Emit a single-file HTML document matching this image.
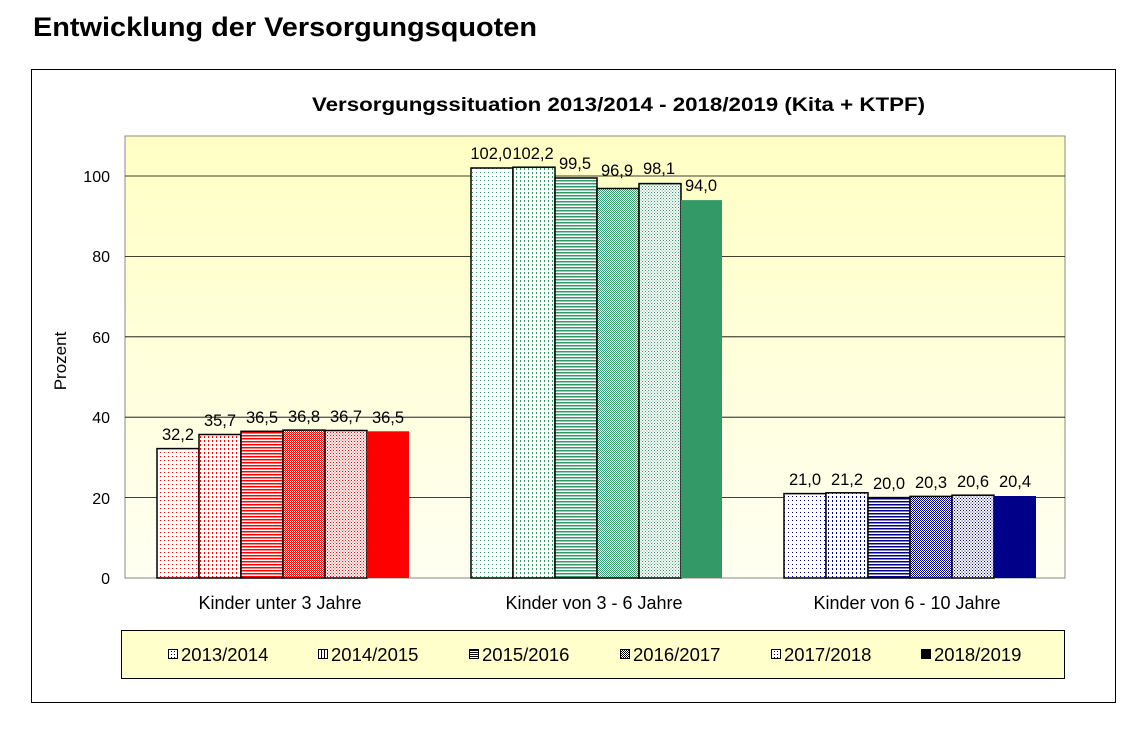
<!DOCTYPE html>
<html><head><meta charset="utf-8"><style>
body{margin:0;background:#fff;width:1140px;height:749px;overflow:hidden}
text{font-family:"Liberation Sans",Arial,sans-serif}
</style></head><body>
<svg width="1140" height="749" xmlns="http://www.w3.org/2000/svg">
<defs>
<linearGradient id="bg" x1="0" y1="0" x2="0" y2="1"><stop offset="0" stop-color="#ffffc4"/><stop offset="1" stop-color="#fffff2"/></linearGradient>
<pattern id="r1" width="4" height="4" patternUnits="userSpaceOnUse"><rect width="4" height="4" fill="#fff"/><rect width="1" height="1" fill="#f00"/></pattern>
<pattern id="r2" width="4" height="4" patternUnits="userSpaceOnUse"><rect width="4" height="4" fill="#fff"/><rect width="1" height="2" fill="#f00"/></pattern>
<pattern id="r3" width="3" height="3" patternUnits="userSpaceOnUse"><rect width="3" height="3" fill="#fff"/><rect width="3" height="1.5" fill="#f00"/></pattern>
<pattern id="r4" width="2" height="2" patternUnits="userSpaceOnUse"><rect width="2" height="2" fill="#fff"/><rect width="1" height="1" fill="#f00"/><rect x="1" y="1" width="1" height="1" fill="#f00"/></pattern>
<pattern id="r5" width="3" height="3" patternUnits="userSpaceOnUse"><rect width="3" height="3" fill="#fff"/><rect width="1" height="1" fill="#f00"/><rect x="1.5" y="1.5" width="1" height="1" fill="#f00"/></pattern>
<pattern id="g1" width="4" height="4" patternUnits="userSpaceOnUse"><rect width="4" height="4" fill="#fff"/><rect width="1" height="1" fill="#396"/></pattern>
<pattern id="g2" width="4" height="4" patternUnits="userSpaceOnUse"><rect width="4" height="4" fill="#fff"/><rect width="1" height="2" fill="#396"/></pattern>
<pattern id="g3" width="3" height="3" patternUnits="userSpaceOnUse"><rect width="3" height="3" fill="#fff"/><rect width="3" height="1.5" fill="#396"/></pattern>
<pattern id="g4" width="2" height="2" patternUnits="userSpaceOnUse"><rect width="2" height="2" fill="#fff"/><rect width="1" height="1" fill="#396"/><rect x="1" y="1" width="1" height="1" fill="#396"/></pattern>
<pattern id="g5" width="3" height="3" patternUnits="userSpaceOnUse"><rect width="3" height="3" fill="#fff"/><rect width="1" height="1" fill="#396"/><rect x="1.5" y="1.5" width="1" height="1" fill="#396"/></pattern>
<pattern id="n1" width="4" height="4" patternUnits="userSpaceOnUse"><rect width="4" height="4" fill="#fff"/><rect width="1" height="1" fill="#008"/></pattern>
<pattern id="n2" width="4" height="4" patternUnits="userSpaceOnUse"><rect width="4" height="4" fill="#fff"/><rect width="1" height="2" fill="#008"/></pattern>
<pattern id="n3" width="3" height="3" patternUnits="userSpaceOnUse"><rect width="3" height="3" fill="#fff"/><rect width="3" height="1.5" fill="#008"/></pattern>
<pattern id="n4" width="2" height="2" patternUnits="userSpaceOnUse"><rect width="2" height="2" fill="#fff"/><rect width="1" height="1" fill="#008"/><rect x="1" y="1" width="1" height="1" fill="#008"/></pattern>
<pattern id="n5" width="3" height="3" patternUnits="userSpaceOnUse"><rect width="3" height="3" fill="#fff"/><rect width="1" height="1" fill="#008"/><rect x="1.5" y="1.5" width="1" height="1" fill="#008"/></pattern>
<pattern id="k1" width="3" height="3" patternUnits="userSpaceOnUse"><rect width="3" height="3" fill="#fff"/><rect width="1" height="1" fill="#000"/></pattern>
<pattern id="k2" width="3" height="3" patternUnits="userSpaceOnUse"><rect width="3" height="3" fill="#fff"/><rect width="1" height="3" fill="#000"/></pattern>
<pattern id="k3" width="2" height="2" patternUnits="userSpaceOnUse"><rect width="2" height="2" fill="#fff"/><rect width="2" height="1" fill="#000"/></pattern>
<pattern id="k4" width="2" height="2" patternUnits="userSpaceOnUse"><rect width="2" height="2" fill="#fff"/><rect width="1" height="1" fill="#000"/><rect x="1" y="1" width="1" height="1" fill="#000"/></pattern>
</defs>
<text x="33" y="36" font-size="27" font-weight="bold" fill="#000" textLength="504" lengthAdjust="spacingAndGlyphs">Entwicklung der Versorgungsquoten</text>
<rect x="31.5" y="69.5" width="1084" height="633" fill="#fff" stroke="#000" stroke-width="1"/>
<text x="312" y="111" font-size="19" font-weight="bold" textLength="613" lengthAdjust="spacingAndGlyphs">Versorgungssituation 2013/2014 - 2018/2019 (Kita + KTPF)</text>
<rect x="125" y="136" width="940" height="442" fill="url(#bg)" stroke="#888" stroke-width="1"/>
<g stroke="#000" stroke-width="0.8">
<line x1="125" y1="497.6" x2="1065" y2="497.6"/><line x1="125" y1="417.2" x2="1065" y2="417.2"/><line x1="125" y1="336.8" x2="1065" y2="336.8"/><line x1="125" y1="256.4" x2="1065" y2="256.4"/><line x1="125" y1="176" x2="1065" y2="176"/>
</g>
<line x1="125" y1="578" x2="1065" y2="578" stroke="#888"/>
<g font-size="16" text-anchor="end"><text x="110" y="584">0</text><text x="110" y="504">20</text><text x="110" y="423">40</text><text x="110" y="343">60</text><text x="110" y="262">80</text><text x="110" y="182">100</text></g>
<text transform="translate(66,361) rotate(-90)" font-size="17" text-anchor="middle">Prozent</text>
<g stroke="#000" stroke-width="1.5">
<rect x="157" y="448.6" width="42" height="129.4" fill="url(#r1)"/>
<rect x="199" y="434.5" width="42" height="143.5" fill="url(#r2)"/>
<rect x="241" y="431.3" width="42" height="146.7" fill="url(#r3)"/>
<rect x="283" y="430.1" width="42" height="147.9" fill="url(#r4)"/>
<rect x="325" y="430.5" width="42" height="147.5" fill="url(#r5)"/>
<rect x="367" y="431.3" width="42" height="146.7" fill="#f00" stroke="none"/>
<rect x="471" y="168" width="42" height="410" fill="url(#g1)"/>
<rect x="513" y="167.2" width="42" height="410.8" fill="url(#g2)"/>
<rect x="555" y="178" width="42" height="400" fill="url(#g3)"/>
<rect x="597" y="188.5" width="42" height="389.5" fill="url(#g4)"/>
<rect x="639" y="183.6" width="42" height="394.4" fill="url(#g5)"/>
<rect x="681" y="200.1" width="41" height="377.9" fill="#396" stroke="none"/>
<rect x="784" y="493.6" width="42" height="84.4" fill="url(#n1)"/>
<rect x="826" y="492.8" width="42" height="85.2" fill="url(#n2)"/>
<rect x="868" y="497.6" width="42" height="80.4" fill="url(#n3)"/>
<rect x="910" y="496.4" width="42" height="81.6" fill="url(#n4)"/>
<rect x="952" y="495.2" width="42" height="82.8" fill="url(#n5)"/>
<rect x="994" y="496" width="42" height="82" fill="#008" stroke="none"/>
</g>
<g font-size="16.5" text-anchor="middle">
<text x="178" y="440">32,2</text><text x="220" y="426">35,7</text><text x="262" y="423">36,5</text><text x="304" y="422">36,8</text><text x="346" y="422">36,7</text><text x="388" y="423">36,5</text>
<text x="491" y="159">102,0</text><text x="533" y="159">102,2</text><text x="575" y="169">99,5</text><text x="617" y="176">96,9</text><text x="659" y="174">98,1</text><text x="701" y="191">94,0</text>
<text x="805" y="485">21,0</text><text x="847" y="485">21,2</text><text x="889" y="489">20,0</text><text x="931" y="488">20,3</text><text x="973" y="487">20,6</text><text x="1015" y="487">20,4</text>
</g>
<g font-size="18" text-anchor="middle"><text x="280" y="609">Kinder unter 3 Jahre</text><text x="594" y="609">Kinder von 3 - 6 Jahre</text><text x="907" y="609">Kinder von 6 - 10 Jahre</text></g>
<rect x="121.5" y="630.5" width="943" height="48" fill="#ffffcc" stroke="#000"/>
<g stroke="#000" stroke-width="1">
<rect x="168.5" y="649.5" width="9" height="9" fill="url(#k1)"/>
<rect x="318.5" y="649.5" width="9" height="9" fill="url(#k2)"/>
<rect x="469.5" y="649.5" width="9" height="9" fill="url(#k3)"/>
<rect x="620.5" y="649.5" width="9" height="9" fill="url(#k4)"/>
<rect x="771.5" y="649.5" width="9" height="9" fill="url(#k1)"/>
<rect x="921.5" y="649.5" width="9" height="9" fill="#000"/>
</g>
<g font-size="18.5"><text x="181" y="661">2013/2014</text><text x="331" y="661">2014/2015</text><text x="482" y="661">2015/2016</text><text x="633" y="661">2016/2017</text><text x="784" y="661">2017/2018</text><text x="934" y="661">2018/2019</text></g>
</svg>
</body></html>
